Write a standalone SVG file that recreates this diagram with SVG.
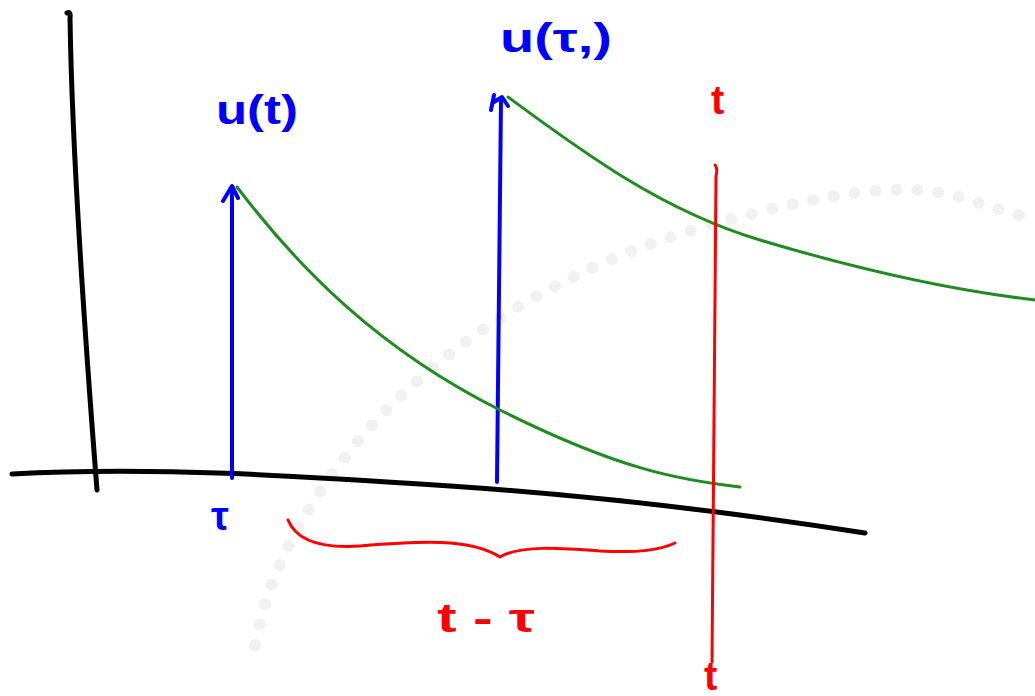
<svg xmlns="http://www.w3.org/2000/svg" width="1035" height="696" viewBox="0 0 1035 696">
<style>
.ax{fill:none;stroke:#000;stroke-width:5;stroke-linecap:round;stroke-linejoin:round}
.bl{fill:none;stroke:#0000ff;stroke-width:4;stroke-linecap:round;stroke-linejoin:round}
.gr{fill:none;stroke:#1e8c1e;stroke-width:3;stroke-linecap:round}
.rd{fill:none;stroke:#ff0000;stroke-width:3;stroke-linecap:round;stroke-linejoin:round}
.wm{fill:none;stroke:#f1f1f1;stroke-width:12;stroke-linecap:round;stroke-dasharray:0 21}
.lb{font-family:"Liberation Sans",Arial,sans-serif;font-size:40px;font-weight:bold;fill:#0000ff}
.lr{font-family:"Liberation Sans",Arial,sans-serif;font-size:40px;font-weight:bold;fill:#ff0000}
</style>
<rect width="1035" height="696" fill="#fff"/>
<g id="watermark">
<path class="wm" d="M255,645 C285,480 450,300 700,228 S950,205 1035,218"/>
</g>
<g id="axes">
<path class="ax" d="M67,13 Q71,11 70,18 C72,150 86,350 97,490"/>
<path class="ax" d="M12,474 C150,466 300,476 450,486 S750,515 865,533"/>
</g>
<g id="connectors">
<path class="bl" d="M232,478 L232,188 M223,201 L232,186 L238,198"/>
<path class="bl" d="M497,482 L501,99 M491,110 L494,95 M494,102 L502,97 L508,106"/>
<path class="gr" d="M237,187 C300,270 380,350 500,410 S680,480 740,487"/>
<path class="gr" d="M508,97 C580,150 660,210 760,240 S950,290 1035,300"/>
<path class="rd" d="M715,165 Q718,168 716,176 L712,662"/>
<path class="rd" d="M288,520 C298,545 330,548 360,546 C420,541 470,538 500,557 C520,545 560,548 600,551 C640,553 660,550 675,543"/>
</g>
<g id="labels">
<text class="lb" x="216" y="124" textLength="82" lengthAdjust="spacingAndGlyphs">u(t)</text>
<text class="lb" x="500" y="52" textLength="112" lengthAdjust="spacingAndGlyphs">u(τ,)</text>
<text class="lb" x="211" y="530">τ</text>
<text class="lr" x="711" y="114">t</text>
<text class="lr" x="704" y="690" font-size="34">t</text>
<text class="lr" x="437" y="632" textLength="98" lengthAdjust="spacingAndGlyphs">t - τ</text>
</g>
</svg>
